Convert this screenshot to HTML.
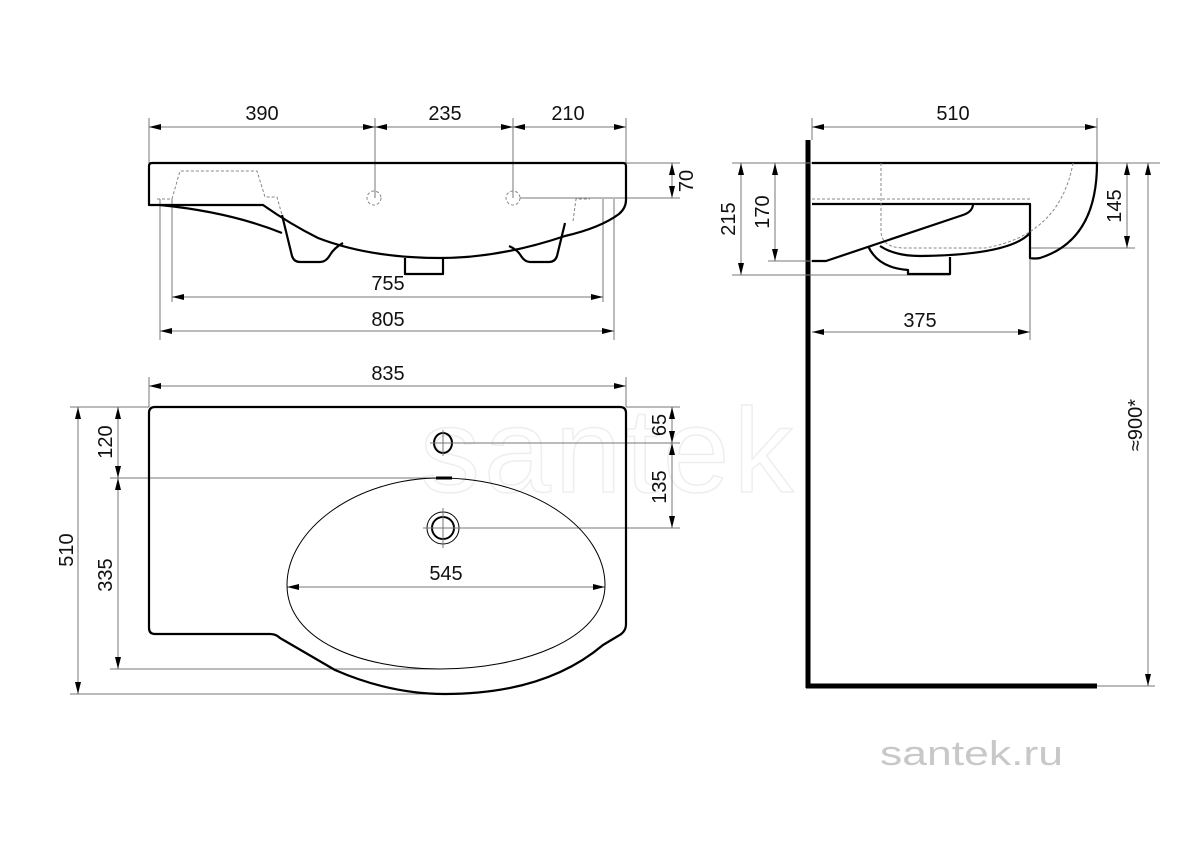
<!DOCTYPE html>
<html><head><meta charset="utf-8"><style>
html,body{margin:0;padding:0;background:#fff;width:1200px;height:848px;overflow:hidden}
svg{display:block}
text{font-family:"Liberation Sans",Arial,sans-serif;font-size:20px;fill:#111}
.d{stroke:#777;stroke-width:1;fill:none}
.o{stroke:#000;stroke-width:2.2;fill:none;stroke-linejoin:round}
.h{stroke:#888;stroke-width:1;fill:none;stroke-dasharray:3,2}
</style></head><body>
<svg width="1200" height="848" viewBox="0 0 1200 848" xmlns="http://www.w3.org/2000/svg">
<defs>
<marker id="a" viewBox="0 0 12 6" refX="12" refY="3" markerWidth="12" markerHeight="6" orient="auto-start-reverse" markerUnits="userSpaceOnUse"><path d="M0,0 L12,3 L0,6 Z" fill="#000"/></marker>
</defs>

<!-- watermark -->
<text x="420" y="492" style="font-size:120px;fill:none;stroke:#eee;stroke-width:1.5;letter-spacing:4px">santek</text>
<text x="880" y="765" textLength="183" lengthAdjust="spacingAndGlyphs" style="font-size:34px;fill:#c8c8c8">santek.ru</text>

<!-- FRONT VIEW -->
<g class="d">
<line x1="149" y1="118" x2="149" y2="163"/><line x1="375" y1="118" x2="375" y2="198"/>
<line x1="513" y1="118" x2="513" y2="198"/><line x1="626" y1="118" x2="626" y2="163"/>
<line x1="626" y1="163" x2="680" y2="163"/><line x1="520" y1="198" x2="680" y2="198"/>
<line x1="172" y1="199" x2="172" y2="302"/><line x1="603" y1="199" x2="603" y2="302"/>
<line x1="160" y1="199" x2="160" y2="340"/><line x1="614" y1="199" x2="614" y2="340"/>
</g>
<g class="d" stroke="#000">
<line x1="149" y1="127" x2="375" y2="127" marker-start="url(#a)" marker-end="url(#a)"/>
<line x1="375" y1="127" x2="513" y2="127" marker-start="url(#a)" marker-end="url(#a)"/>
<line x1="513" y1="127" x2="626" y2="127" marker-start="url(#a)" marker-end="url(#a)"/>
<line x1="672" y1="163" x2="672" y2="198" marker-start="url(#a)" marker-end="url(#a)"/>
<line x1="172" y1="297" x2="603" y2="297" marker-start="url(#a)" marker-end="url(#a)"/>
<line x1="160" y1="331" x2="614" y2="331" marker-start="url(#a)" marker-end="url(#a)"/>
</g>
<text x="262" y="120" text-anchor="middle">390</text>
<text x="445" y="120" text-anchor="middle">235</text>
<text x="568" y="120" text-anchor="middle">210</text>
<text transform="translate(693,181) rotate(-90)" text-anchor="middle">70</text>
<text x="388" y="290" text-anchor="middle">755</text>
<text x="388" y="326" text-anchor="middle">805</text>

<path class="o" d="M149,205 V166 Q149,163 152,163 H623 Q626,163 626,166 V200 Q626,208 619,214 Q600,228 565,236 Q500,258 440,258 Q370,258 318,238 Q290,224 263,205 Z"/>
<path class="o" d="M160,205 Q230,212 282,233"/>
<path class="o" d="M282,215 L292,256 Q294,262 300,262 H320 Q326,262 330,255 Q334,248 343,243"/>
<path class="o" d="M565,223 L557,256 Q555,262 549,262 H530 Q525,262 521,256 Q518,250 509,246"/>
<path class="o" d="M405,258 V274 H443 V258"/>
<path class="h" d="M157,199 H172 L180,171 H257 L265,197 H277 L282,215"/>
<path class="h" d="M573,221 L576,199 H590"/>
<circle class="h" cx="374" cy="198" r="7"/><circle class="h" cx="513" cy="198" r="7"/>

<!-- SIDE VIEW -->
<line x1="808" y1="140" x2="808" y2="688" stroke="#000" stroke-width="5"/>
<line x1="806" y1="686" x2="1097" y2="686" stroke="#000" stroke-width="5"/>
<g class="d">
<line x1="1097" y1="118" x2="1097" y2="163"/><line x1="812" y1="118" x2="812" y2="140"/>
<line x1="732" y1="163" x2="812" y2="163"/><line x1="732" y1="275" x2="950" y2="275"/>
<line x1="768" y1="261" x2="812" y2="261"/>
<line x1="1097" y1="163" x2="1160" y2="163"/><line x1="1030" y1="248" x2="1135" y2="248"/>
<line x1="1097" y1="686" x2="1155" y2="686"/>
<line x1="1030" y1="259" x2="1030" y2="340"/>
</g>
<g class="d" stroke="#000">
<line x1="812" y1="127" x2="1097" y2="127" marker-start="url(#a)" marker-end="url(#a)"/>
<line x1="741" y1="163" x2="741" y2="275" marker-start="url(#a)" marker-end="url(#a)"/>
<line x1="775" y1="163" x2="775" y2="261" marker-start="url(#a)" marker-end="url(#a)"/>
<line x1="1127" y1="163" x2="1127" y2="248" marker-start="url(#a)" marker-end="url(#a)"/>
<line x1="1148" y1="163" x2="1148" y2="686" marker-start="url(#a)" marker-end="url(#a)"/>
<line x1="812" y1="332" x2="1030" y2="332" marker-start="url(#a)" marker-end="url(#a)"/>
</g>
<text x="953" y="120" text-anchor="middle">510</text>
<text transform="translate(735,219) rotate(-90)" text-anchor="middle">215</text>
<text transform="translate(769,212) rotate(-90)" text-anchor="middle">170</text>
<text transform="translate(1121,206) rotate(-90)" text-anchor="middle">145</text>
<text transform="translate(1142,425) rotate(-90)" text-anchor="middle">≈900*</text>
<text x="920" y="327" text-anchor="middle">375</text>

<path class="o" d="M812,163 H1097 Q1097,240 1040,258 Q1035,259 1030,258 V204 H812"/>
<path class="o" d="M1030,233 Q1010,255 920,256 Q895,256 880,246"/>
<path class="o" d="M812,261 H826 L963,215 Q972,212 973,205"/>
<path class="o" d="M868,246 Q878,268 908,270 V274 H950 V257"/>
<path class="h" d="M812,199 H1030"/>
<path class="h" d="M881,163 V232 Q882,248 905,248 H985 Q1060,235 1073,163"/>

<!-- TOP VIEW -->
<g class="d">
<line x1="149" y1="377" x2="149" y2="407"/><line x1="626" y1="377" x2="626" y2="407"/>
<line x1="70" y1="407" x2="149" y2="407"/><line x1="70" y1="694" x2="440" y2="694"/>
<line x1="110" y1="478" x2="440" y2="478"/><line x1="110" y1="669" x2="440" y2="669"/>
<line x1="626" y1="407" x2="680" y2="407"/>
<line x1="443" y1="443" x2="680" y2="443"/><line x1="443" y1="528" x2="680" y2="528"/>
</g>
<g class="d" stroke="#000">
<line x1="149" y1="386" x2="626" y2="386" marker-start="url(#a)" marker-end="url(#a)"/>
<line x1="78" y1="407" x2="78" y2="694" marker-start="url(#a)" marker-end="url(#a)"/>
<line x1="118" y1="407" x2="118" y2="478" marker-start="url(#a)" marker-end="url(#a)"/>
<line x1="118" y1="478" x2="118" y2="669" marker-start="url(#a)" marker-end="url(#a)"/>
<line x1="672" y1="407" x2="672" y2="443" marker-start="url(#a)" marker-end="url(#a)"/>
<line x1="672" y1="443" x2="672" y2="528" marker-start="url(#a)" marker-end="url(#a)"/>
<line x1="287" y1="587" x2="605" y2="587" marker-start="url(#a)" marker-end="url(#a)"/>
</g>
<text x="388" y="380" text-anchor="middle">835</text>
<text transform="translate(73,550) rotate(-90)" text-anchor="middle">510</text>
<text transform="translate(112,442) rotate(-90)" text-anchor="middle">120</text>
<text transform="translate(112,575) rotate(-90)" text-anchor="middle">335</text>
<text transform="translate(666,425) rotate(-90)" text-anchor="middle">65</text>
<text transform="translate(666,487) rotate(-90)" text-anchor="middle">135</text>
<text x="446" y="580" text-anchor="middle">545</text>

<path class="o" d="M155,407 H620 Q626,407 626,413 V624 Q626,632 618,636 L603,645 Q545,694 445,694 Q390,694 335,670 L280,638 Q276,634 270,634 H155 Q149,634 149,628 V413 Q149,407 155,407 Z"/>
<path d="M440,478 C535,478 605,530 605,585 C605,640 520,669 440,669 C360,669 287,640 287,585 C287,530 355,478 440,478 Z" fill="none" stroke="#000" stroke-width="1"/>
<line x1="436" y1="478" x2="452" y2="478" stroke="#000" stroke-width="3"/>
<ellipse cx="443" cy="443" rx="9" ry="10" fill="none" stroke="#000" stroke-width="2"/>
<circle cx="443" cy="528" r="11" fill="none" stroke="#000" stroke-width="2"/>
<circle cx="443" cy="528" r="16" fill="none" stroke="#000" stroke-width="1"/>
<g class="d"><line x1="443" y1="430" x2="443" y2="456"/><line x1="430" y1="443" x2="456" y2="443"/>
<line x1="443" y1="508" x2="443" y2="548"/><line x1="423" y1="528" x2="463" y2="528"/></g>
</svg>
</body></html>
